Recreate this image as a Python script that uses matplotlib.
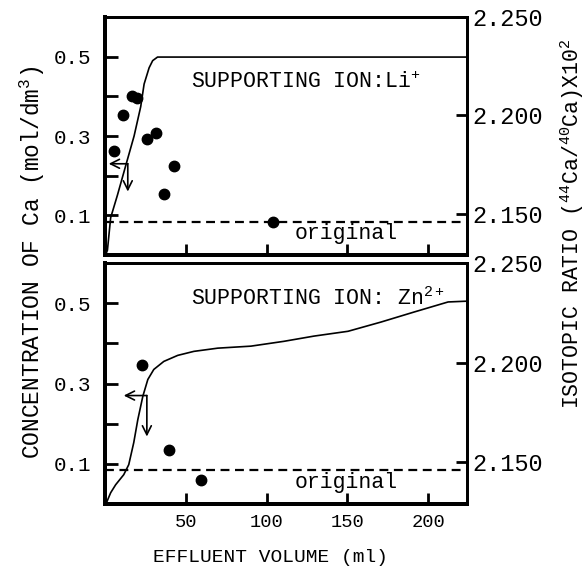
import matplotlib
matplotlib.use('Agg')
import matplotlib.pyplot as plt

plt.rcParams['font.family'] = ['Liberation Mono', 'DejaVu Sans Mono']
plt.rcParams['mathtext.fontset'] = 'custom'
plt.rcParams['mathtext.rm'] = 'Liberation Mono'
plt.rcParams['mathtext.it'] = 'Liberation Mono'
plt.rcParams['mathtext.bf'] = 'Liberation Mono'

# --- data --- #
# Li+ supporting ion: Ca concentration curve (mol/dm3) vs effluent volume (ml)
li_vol = [0.3, 1.5, 3.5, 7.7, 12.8, 18.0, 22.1, 24.2, 27.3, 29.5, 32.5, 224]
li_conc = [0.0, 0.012, 0.094, 0.151, 0.225, 0.300, 0.374, 0.431, 0.472, 0.490, 0.499, 0.499]
# Li+ supporting ion: isotopic ratio points
li_pt_vol = [5.6, 11.4, 17.0, 20.1, 25.8, 31.4, 36.6, 42.8, 103.7]
li_pt_ratio = [2.182, 2.200, 2.210, 2.209, 2.188, 2.191, 2.160, 2.174, 2.146]

# Zn2+ supporting ion: concentration curve
zn_vol = [0.3, 1.1, 3.5, 6.6, 11.6, 14.7, 17.8, 20.3, 23.4, 26.5, 30.2, 36.4, 45.0,
          55.0, 69.8, 90.3, 110.7, 129.3, 150.4, 170.8, 191.3, 212.3, 224]
zn_conc = [0.0, 0.005, 0.028, 0.048, 0.073, 0.098, 0.153, 0.210, 0.268, 0.310, 0.335,
           0.355, 0.370, 0.380, 0.388, 0.393, 0.405, 0.418, 0.430, 0.453, 0.478, 0.503, 0.505]
# Zn2+ supporting ion: isotopic ratio points
zn_pt_vol = [22.7, 39.3, 59.5]
zn_pt_ratio = [2.199, 2.156, 2.141]

original_ratio = 2.146

conc_ticks = [0.1, 0.2, 0.3, 0.4, 0.5]
conc_labels = ['0.1', '', '0.3', '', '0.5']
ratio_ticks = [2.150, 2.200, 2.250]
ratio_labels = ['2.150', '2.200', '2.250']
vol_ticks = [50, 100, 150, 200]
vol_labels = ['50', '100', '150', '200']

W, H = 585, 572
fig = plt.figure(figsize=(W / 100, H / 100), dpi=100)


def px_axes(left, right, top, bottom):
    return fig.add_axes([left / W, 1 - bottom / H, (right - left) / W, (bottom - top) / H])


def style_panel(ax, ax2, show_xlabels):
    ax.set_xlim(0, 224)
    ax.set_ylim(0, 0.6)
    ax2.set_ylim(2.129, 2.250)
    ax.set_xticks(vol_ticks)
    ax.set_xticklabels(vol_labels if show_xlabels else [])
    ax.set_yticks(conc_ticks)
    ax.set_yticklabels(conc_labels)
    ax2.set_yticks(ratio_ticks)
    ax2.set_yticklabels(ratio_labels)
    ax.tick_params(axis='x', direction='in', length=8, width=2, labelsize=13.5, pad=7)
    ax.tick_params(axis='y', direction='in', length=9, width=2, labelsize=15, pad=10)
    ax2.tick_params(axis='y', direction='in', length=8, width=2, labelsize=17, pad=4)
    for a in (ax, ax2):
        a.spines['left'].set_linewidth(2.8)
        a.spines['bottom'].set_linewidth(2.8)
        a.spines['top'].set_linewidth(2.0)
        a.spines['right'].set_linewidth(2.0)


def corner_arrow(ax, corner, left_tip, down_tip):
    kw = dict(arrowstyle='->', lw=1.2, color='black', mutation_scale=16, shrinkA=0, shrinkB=0)
    ax.annotate('', xy=left_tip, xytext=corner, arrowprops=kw)
    ax.annotate('', xy=down_tip, xytext=corner, arrowprops=kw)


# top panel: Li+
ax1 = px_axes(105, 467, 17, 255)
ax1r = ax1.twinx()
ax1.plot(li_vol, li_conc, color='black', lw=1.2)
ax1r.axhline(original_ratio, color='black', lw=1.6, ls=(0, (4, 2.5)))
ax1r.plot(li_pt_vol, li_pt_ratio, 'o', color='black', ms=7.5)
ax1.text(53, 0.421, r'SUPPORTING ION:Li$^{+}$', fontsize=15.5, va='baseline')
ax1.text(149, 0.040, 'original', fontsize=15.5, ha='center', va='baseline')
corner_arrow(ax1, (14.1, 0.23), (2.3, 0.23), (14.1, 0.16))
style_panel(ax1, ax1r, False)

# bottom panel: Zn2+
ax2 = px_axes(105, 467, 263, 504)
ax2r = ax2.twinx()
ax2.plot(zn_vol, zn_conc, color='black', lw=1.2)
ax2r.axhline(original_ratio, color='black', lw=1.6, ls=(0, (4, 2.5)))
ax2r.plot(zn_pt_vol, zn_pt_ratio, 'o', color='black', ms=7.5)
ax2.text(53, 0.495, r'SUPPORTING ION: Zn$^{2+}$', fontsize=15.5, va='baseline')
ax2.text(149, 0.040, 'original', fontsize=15.5, ha='center', va='baseline')
corner_arrow(ax2, (25.9, 0.27), (11.6, 0.27), (25.9, 0.168))
style_panel(ax2, ax2r, True)

# axis titles
fig.text(270.5 / W, 1 - 558 / H, 'EFFLUENT VOLUME (ml)', fontsize=14, ha='center', va='center')
fig.text(32 / W, 1 - 262 / H, r'CONCENTRATION OF Ca (mol/dm$^{3}$)', fontsize=16.5,
         rotation=90, ha='center', va='center')
fig.text(572 / W, 1 - 224 / H, r'ISOTOPIC RATIO ($^{44}$Ca/$^{40}$Ca)X10$^{2}$', fontsize=15.5,
         rotation=90, ha='center', va='center')

fig.savefig('out.png', dpi=100)
